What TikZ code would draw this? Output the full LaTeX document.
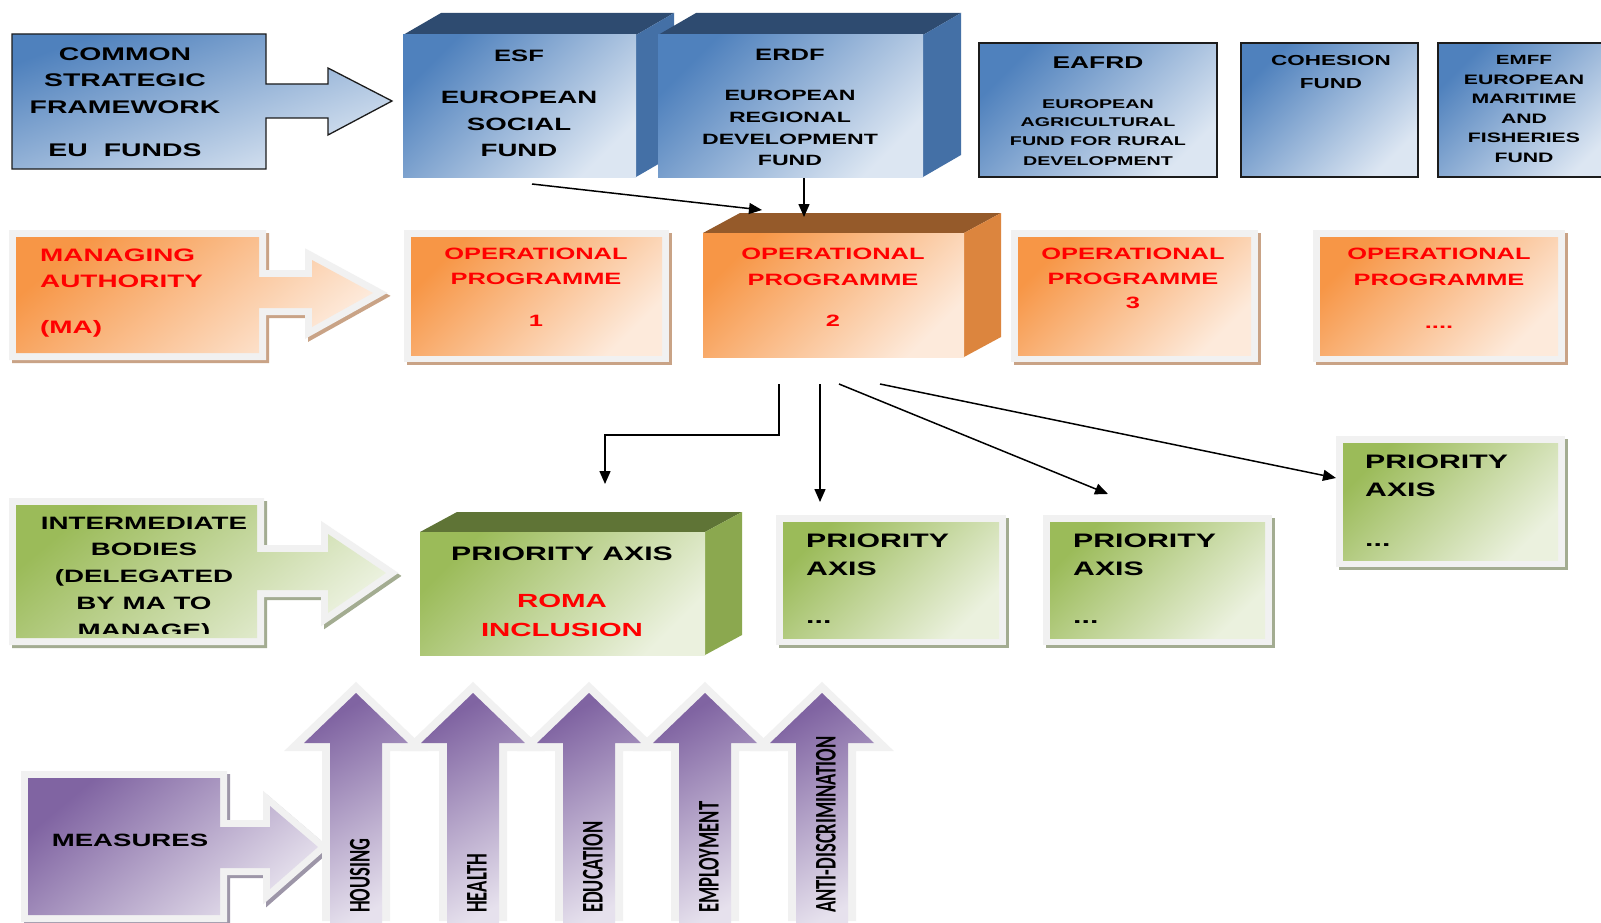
\documentclass[tikz,border=0pt]{standalone}
\usepackage{fontspec}
\usetikzlibrary{arrows.meta,fit}
\newfontfamily\cpfont[FakeStretch=1.55]{Liberation Sans}
\newfontfamily\calfont{Carlito}
\definecolor{blueD}{HTML}{4F81BD}
\definecolor{blueL}{HTML}{DCE6F2}
\definecolor{blueTop}{HTML}{2E4B70}
\definecolor{blueSide}{HTML}{4470A6}
\definecolor{orD}{HTML}{F79646}
\definecolor{orL}{HTML}{FDEADB}
\definecolor{orTop}{HTML}{955A2A}
\definecolor{orSide}{HTML}{DC853E}
\definecolor{orSh}{HTML}{C9A386}
\definecolor{grD}{HTML}{9BBB59}
\definecolor{grL}{HTML}{EBF1DE}
\definecolor{grTop}{HTML}{5F7436}
\definecolor{grSide}{HTML}{8BA84F}
\definecolor{grSh}{HTML}{A3AC91}
\definecolor{puD}{HTML}{8064A2}
\definecolor{puL}{HTML}{E6E1ED}
\definecolor{puSh}{HTML}{9D96A8}
\definecolor{liteB}{HTML}{F1F1F1}
\definecolor{redT}{HTML}{FF0000}
\definecolor{edge}{HTML}{1C1C1C}

% cube: name, x1, y1, x2, y2, dx, dy(up), colour prefix
\newcommand\mycube[8]{%
  \fill[#8Top] (#2,#3) -- (#2+#6,#3-#7) -- (#4+#6,#3-#7) -- (#4,#3) -- cycle;
  \fill[#8Side] (#4,#3) -- (#4+#6,#3-#7) -- (#4+#6,#5-#7) -- (#4,#5) -- cycle;
  \node[fit={(#2,#3) (#4,#5)}, inner sep=0pt, outer sep=0pt,
        top color=#8D, bottom color=#8L, shading angle=45] (#1) {};}
% flat box with light frame and shadow: name, x1, y1, x2, y2, colour prefix
\newcommand\litebox[6]{%
  \fill[#6Sh] (#2-4,#3-4) rectangle (#4+10,#5+10);
  \fill[liteB] (#2-7,#3-7) rectangle (#4+7,#5+7);
  \node[fit={(#2,#3) (#4,#5)}, inner sep=0pt, outer sep=0pt,
        top color=#6D, bottom color=#6L, shading angle=45] (#1) {};}
% fund box with dark edge: name, x1, y1, x2, y2
\newcommand\fundbox[5]{%
  \node[fit={(#2,#3) (#4,#5)}, inner sep=0pt, outer sep=0pt, draw=edge, line width=1.3pt,
        top color=blueD, bottom color=blueL, shading angle=45] (#1) {};}
% upward arrow: name, centre x, label
\newcommand\uparr[3]{%
  \path[draw=liteB, line width=16pt, line join=miter]
    (#2-26,921) -- (#2-26,743) -- (#2-52,743) -- (#2,693) -- (#2+52,743) -- (#2+26,743) -- (#2+26,921);
  \path[top color=puD, bottom color=puL, shading angle=30]
    (#2-26,930) -- (#2-26,743) -- (#2-52,743) -- (#2,693) -- (#2+52,743) -- (#2+26,743) -- (#2+26,930) -- cycle;
  \node[rlbl, rotate=90, anchor=west] (#1) at (#2+4,913) {\scalebox{0.62}[1]{#3}};}

\begin{document}
\begin{tikzpicture}[x=1pt,y=-1pt,
  txt/.style={font=\cpfont\bfseries\fontsize{#1}{#1}\selectfont, inner sep=0pt, anchor=mid, yshift=-4pt},
  rtxt/.style={txt=#1, text=redT},
  rlbl/.style={font=\calfont\bfseries\fontsize{30}{30}\selectfont, inner sep=0pt},
  conn/.style={line width=1.5pt, -{Triangle[length=13pt,width=11pt]}},
  pCSF/.style={insert path={(12,34) -- (266,34) -- (266,84) -- (328,84) -- (328,68) -- (392,101) -- (328,135) -- (328,118) -- (266,118) -- (266,169) -- (12,169) -- cycle}},
  pMA/.style={insert path={(16,237) -- (259,237) -- (259,277) -- (312,277) -- (312,260) -- (373,293) -- (312,327) -- (312,308) -- (259,308) -- (259,353) -- (16,353) -- cycle}},
  pIB/.style={insert path={(16,505) -- (257,505) -- (257,552) -- (328,552) -- (328,534) -- (386,573) -- (328,613) -- (328,590) -- (257,590) -- (257,638) -- (16,638) -- cycle}},
  pMS/.style={insert path={(28,778) -- (220,778) -- (220,827) -- (270,827) -- (270,806) -- (318,847) -- (270,889) -- (270,868) -- (220,868) -- (220,915) -- (28,915) -- cycle}},
]
\useasboundingbox (0,0) rectangle (1601,923);
\fill[white] (0,0) rectangle (1601,923);
\begin{scope}
\clip (0,0) rectangle (1601,923);

% ---------- row 1 : funds ----------
\path[draw=edge, line width=1.3pt, top color=blueD, bottom color=blueL, shading angle=20, pCSF];
\node[fit={(12,34) (266,169)}, inner sep=0pt] (csf) {};
\node[txt=18.3] (csf1) at (125,54) {COMMON};
\node[txt=18.3] (csf2) at (125,80) {STRATEGIC};
\node[txt=18.3] (csf3) at (125,107) {FRAMEWORK};
\node[txt=18.3] (csf4) at (125,150) {EU\hspace{16pt}FUNDS};

\mycube{esf}{403}{35}{636}{177}{38}{22}{blue}
\mycube{erdf}{658}{35}{923}{177}{38}{22}{blue}
\node[txt=16.5] (esf1) at (519,55) {ESF};
\node[txt=17.8] (esf2) at (519,97) {EUROPEAN};
\node[txt=17.8] (esf3) at (519,124) {SOCIAL};
\node[txt=17.8] (esf4) at (519,150) {FUND};
\node[txt=16.5] (erdf1) at (790,54) {ERDF};
\node[txt=14.9] (erdf2) at (790,94) {EUROPEAN};
\node[txt=14.9] (erdf3) at (790,116) {REGIONAL};
\node[txt=14.9] (erdf4) at (790,138) {DEVELOPMENT};
\node[txt=14.9] (erdf5) at (790,159) {FUND};

\fundbox{eafrd}{979}{43}{1217}{177}
\fundbox{cf}{1241}{43}{1418}{177}
\fundbox{emff}{1438}{43}{1615}{177}
\node[txt=17] (eafrd1) at (1098,62) {EAFRD};
\node[txt=12.7] (eafrd2) at (1098,102) {EUROPEAN};
\node[txt=12.7] (eafrd3) at (1098,120) {AGRICULTURAL};
\node[txt=12.7] (eafrd4) at (1098,139) {FUND FOR RURAL};
\node[txt=12.7] (eafrd5) at (1098,159) {DEVELOPMENT};
\node[txt=14.5] (cf1) at (1331,59) {COHESION};
\node[txt=14.5] (cf2) at (1331,82) {FUND};
\node[txt=13.3] (emff1) at (1524,58) {EMFF};
\node[txt=13.7] (emff2) at (1524,78) {EUROPEAN};
\node[txt=13.7] (emff3) at (1524,97) {MARITIME};
\node[txt=13.7] (emff4) at (1524,117) {AND};
\node[txt=13.7] (emff5) at (1524,136) {FISHERIES};
\node[txt=13.7] (emff6) at (1524,156) {FUND};

% ---------- row 2 : managing authority ----------
\path[draw=orSh, fill=orSh, line width=14pt, line join=miter, shift={(3,3)}, pMA];
\path[draw=liteB, line width=14pt, line join=miter, pMA];
\path[top color=orD, bottom color=orL, shading angle=40, pMA];
\node[fit={(16,237) (259,353)}, inner sep=0pt] (ma) {};
\node[rtxt=18, anchor=mid west] (ma1) at (40,255) {MANAGING};
\node[rtxt=18, anchor=mid west] (ma2) at (40,281) {AUTHORITY};
\node[rtxt=18, anchor=mid west] (ma3) at (40,327) {(MA)};

\litebox{op1}{411}{237}{662}{355}{or}
\mycube{op2}{703}{233}{964}{357}{37}{20}{or}
\litebox{op3}{1018}{237}{1251}{355}{or}
\litebox{op4}{1320}{237}{1558}{355}{or}
\node[rtxt=16.4] (op1a) at (536,253) {OPERATIONAL};
\node[rtxt=16.4] (op1b) at (536,278) {PROGRAMME};
\node[rtxt=16.4] (op1c) at (536,320) {1};
\node[rtxt=16.4] (op2a) at (833,253) {OPERATIONAL};
\node[rtxt=16.4] (op2b) at (833,279) {PROGRAMME};
\node[rtxt=16.4] (op2c) at (833,320) {2};
\node[rtxt=16.4] (op3a) at (1133,253) {OPERATIONAL};
\node[rtxt=16.4] (op3b) at (1133,278) {PROGRAMME};
\node[rtxt=16.4] (op3c) at (1133,302) {3};
\node[rtxt=16.4] (op4a) at (1439,253) {OPERATIONAL};
\node[rtxt=16.4] (op4b) at (1439,279) {PROGRAMME};
\node[rtxt=16.4] (op4c) at (1439,322) {....};

% ---------- row 3 : intermediate bodies ----------
\path[draw=grSh, fill=grSh, line width=14pt, line join=miter, shift={(3,3)}, pIB];
\path[draw=liteB, line width=14pt, line join=miter, pIB];
\path[top color=grD, bottom color=grL, shading angle=40, pIB];
\node[fit={(16,505) (257,638)}, inner sep=0pt] (ib) {};
\begin{scope}
\clip (16,505) rectangle (257,633);
\node[txt=17.9] (ib1) at (144,523) {INTERMEDIATE};
\node[txt=17.9] (ib2) at (144,549) {BODIES};
\node[txt=17.9] (ib3) at (144,576) {(DELEGATED};
\node[txt=17.9] (ib4) at (144,603) {BY MA TO};
\node[txt=17.9] (ib5) at (144,630) {MANAGE)};
\end{scope}

\mycube{roma}{420}{532}{705}{655}{37}{20}{gr}
\node[txt=19.5] (roma1) at (562,554) {PRIORITY AXIS};
\node[rtxt=19] (roma2) at (562,601) {ROMA};
\node[rtxt=19] (roma3) at (562,630) {INCLUSION};

\litebox{pa2}{783}{522}{999}{638}{gr}
\litebox{pa3}{1050}{522}{1265}{638}{gr}
\litebox{pa4}{1343}{443}{1558}{560}{gr}
\node[txt=19.5, anchor=mid west] (pa2a) at (806,541) {PRIORITY};
\node[txt=19.5, anchor=mid west] (pa2b) at (806,569) {AXIS};
\node[txt=19.5, anchor=mid west] (pa2c) at (806,617) {...};
\node[txt=19.5, anchor=mid west] (pa3a) at (1073,541) {PRIORITY};
\node[txt=19.5, anchor=mid west] (pa3b) at (1073,569) {AXIS};
\node[txt=19.5, anchor=mid west] (pa3c) at (1073,617) {...};
\node[txt=19.5, anchor=mid west] (pa4a) at (1365,462) {PRIORITY};
\node[txt=19.5, anchor=mid west] (pa4b) at (1365,490) {AXIS};
\node[txt=19.5, anchor=mid west] (pa4c) at (1365,540) {...};

% ---------- row 4 : measures ----------
\path[draw=puSh, fill=puSh, line width=14pt, line join=miter, shift={(3,3)}, pMS];
\path[draw=liteB, line width=14pt, line join=miter, pMS];
\path[top color=puD, bottom color=puL, shading angle=40, pMS];
\node[fit={(28,778) (220,915)}, inner sep=0pt] (ms) {};
\node[txt=17.8] (ms1) at (130,840) {MEASURES};

\uparr{housing}{356}{HOUSING}
\uparr{health}{473}{HEALTH}
\uparr{education}{589}{EDUCATION}
\uparr{employment}{705}{EMPLOYMENT}
\uparr{antidisc}{822}{ANTI-DISCRIMINATION}

% ---------- connectors ----------
\coordinate (k1s) at (532,184);
\coordinate (k1e) at (762,210);
\coordinate (k2s) at (804,178);
\coordinate (k2e) at (804,217);
\coordinate (k3s) at (779,384);
\coordinate (k3m) at (605,435);
\coordinate (k3e) at (605,484);
\coordinate (k4s) at (820,384);
\coordinate (k4e) at (820,502);
\coordinate (k5s) at (839,384);
\coordinate (k5e) at (1108,494);
\coordinate (k6s) at (880,384);
\coordinate (k6e) at (1336,478);
\draw[conn] (k1s) -- (k1e);
\draw[conn] (k2s) -- (k2e);
\draw[conn] (k3s) |- (k3m) -- (k3e);
\draw[conn] (k4s) -- (k4e);
\draw[conn] (k5s) -- (k5e);
\draw[conn] (k6s) -- (k6e);
\end{scope}
\end{tikzpicture}
\end{document}
